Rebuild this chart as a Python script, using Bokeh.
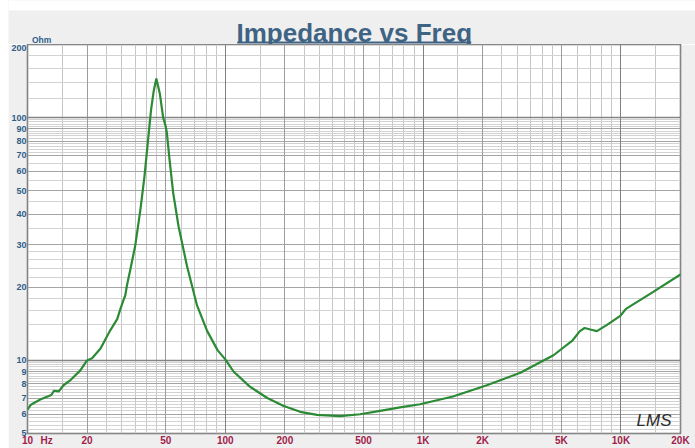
import numpy as np
from bokeh.plotting import figure
from bokeh.layouts import column
from bokeh.models import FixedTicker, Grid, Label, Range1d
from bokeh.embed import file_html
from bokeh.resources import INLINE
from bokeh.core.properties import value

# ---- data ----
freq_hz = [10, 10.4, 11.6, 13.2, 13.6, 14.4, 15.2, 16.5, 18.5, 20, 21.2, 23.4, 26.2,
           28.4, 29.5, 30.7, 31.2, 31.8, 33.1, 35.0, 37.2, 39.0, 40.5, 42.1, 43.4,
           44.8, 46.7, 48.5, 49.8, 50.6, 52.3, 54.5, 58, 64, 72, 81, 91.5, 100, 110,
           133, 163, 196, 239, 291, 381, 480, 606, 764, 965, 1415, 2100, 3100, 4560,
           5700, 6200, 6550, 7000, 7560, 8500, 9960, 10600, 14500, 20000]
impedance_ohm = [6.27, 6.57, 6.9, 7.2, 7.5, 7.45, 7.9, 8.3, 9.1, 10.0, 10.2, 11.2, 13.3,
                 14.8, 16.3, 17.9, 18.5, 20.3, 23.7, 29.5, 41.7, 57, 78, 107, 128,
                 145, 125, 100, 93, 87, 66.7, 49, 35.7, 24.5, 16.8, 13.2, 11.0, 10.1, 9.0,
                 7.8, 7.0, 6.5, 6.14, 5.97, 5.9, 6.0, 6.2, 6.4, 6.6, 7.1, 7.9, 8.9, 10.5,
                 12.1, 13.2, 13.6, 13.4, 13.2, 14.0, 15.3, 16.3, 19.1, 22.6]

x_tick_values = [10, 20, 50, 100, 200, 500, 1000, 2000, 5000, 10000, 20000]
x_tick_labels = ["10", "20", "50", "100", "200", "500", "1K", "2K", "5K", "10K", "20K"]
x_unit_label = "Hz"
x_decades = [10, 100, 1000, 10000]
x_minor_mult = [1.5, 2.5, 3, 3.5, 4, 4.5, 6, 7, 8, 9]

y_tick_values = [5, 6, 7, 8, 9, 10, 20, 30, 40, 50, 60, 70, 80, 90, 100, 200]
y_tick_labels = [str(v) for v in y_tick_values]
y_unit_label = "Ohm"
y_decades = [10, 100]

title_text = "Impedance vs Freq"

# ---- styles / layout ----
SANS = "Liberation Sans"
X_LABEL_COLOR = "#a12149"
Y_LABEL_COLOR = "#2f5d8a"
TITLE_COLOR = "#3e6383"
CURVE_COLOR = "#2b8a34"
BG = "#efefef"

PAD = 8             # white strip left / top
W = 695 - PAD
TITLE_H = 44        # title strip height (includes the white top strip)
H = 448 - TITLE_H
ML, MR, MB = 17, 15, 12
AXIS_PANEL = 19.5   # measured width of the left axis panel

x_lo, x_hi = x_tick_values[0], x_tick_values[-1]
y_lo, y_hi = y_tick_values[0], y_tick_values[-1]


def no_align(fig):
    if "frame_align" in fig.properties():
        fig.frame_align = False


# ---- title strip (a frame-only figure in pixel coordinates) ----
tf = figure(width=W, height=TITLE_H, x_range=Range1d(0, W), y_range=Range1d(TITLE_H, 0),
            x_axis_location=None, y_axis_location=None, output_backend="svg",
            toolbar_location=None, title=None, min_border=0, min_border_left=0,
            min_border_right=0, min_border_top=0, min_border_bottom=0, margin=(0, 0, 0, PAD))
no_align(tf)
tf.grid.visible = False
tf.outline_line_color = None
tf.background_fill_color = BG
tf.border_fill_color = BG
tf.quad(left=[0], right=[W], top=[0], bottom=[PAD + 2], fill_color="white", line_color=None)
frame_left = max(ML, AXIS_PANEL)
frame_cx = (frame_left + (W - MR)) / 2
tf.text(x=[frame_cx], y=[TITLE_H - 12], text=[title_text], text_align="center",
        text_baseline="alphabetic", text_font=value(SANS), text_font_style="bold",
        text_font_size="26px", text_color=TITLE_COLOR)
tf.quad(left=[frame_cx - 117], right=[frame_cx + 117], top=[TITLE_H - 3.0], bottom=[TITLE_H - 1.1],
        fill_color=TITLE_COLOR, line_color=None)
tf.text(x=[frame_left + 4], y=[TITLE_H - 5], text=[y_unit_label], text_align="left",
        text_baseline="alphabetic", text_font=value(SANS), text_font_style="bold",
        text_font_size="8.5px", text_color=Y_LABEL_COLOR)

# ---- main chart ----
p = figure(width=W, height=H, x_axis_type="log", y_axis_type="log",
           x_range=Range1d(x_lo * 0.9999, x_hi * 1.0001),
           y_range=Range1d(y_lo * 0.9999, y_hi * 1.0001),
           output_backend="svg", toolbar_location=None, title=None,
           min_border_left=ML, min_border_right=MR, min_border_top=0, min_border_bottom=MB,
           margin=(0, 0, 0, PAD))
no_align(p)

p.border_fill_color = BG
p.background_fill_color = "white"
p.outline_line_color = "#6a6a6a"
p.outline_line_width = 1.5

p.xgrid.visible = False
p.ygrid.visible = False

x_minor = [d * m for d in x_decades for m in x_minor_mult if d * m < x_hi]
y_minor = ([round(5 + 0.2 * i, 2) for i in range(1, 25) if abs((5 + 0.2 * i) - round(5 + 0.2 * i)) > 1e-6]
           + [12, 14, 16, 18, 22, 24, 26, 28, 35, 45, 55, 65]
           + [72, 74, 76, 78, 82, 84, 86, 88, 92, 94, 96, 98]
           + [120, 140, 160, 180])


def add_grid(dim, ticks, color, width=1.0):
    g = Grid(dimension=dim, ticker=FixedTicker(ticks=ticks),
             grid_line_color=color, grid_line_width=width)
    p.add_layout(g)


add_grid(0, x_minor, "#c6c6c6")
add_grid(1, y_minor, "#d2d2d2")
add_grid(0, x_tick_values, "#9c9c9c")
add_grid(1, y_tick_values, "#a4a4a4")
add_grid(0, x_decades, "#808080")
add_grid(1, y_decades, "#858585", 1.3)

p.line(freq_hz, impedance_ohm, line_color=CURVE_COLOR, line_width=2.2)

# unit label "Hz" sits on the x label row, just right of the first tick label
px_per_decade = (W - MR - frame_left) / np.log10(x_hi / x_lo)
hz_pos = x_lo * 10 ** (19 / px_per_decade)
x_axis_ticks = x_tick_values + [hz_pos]
x_axis_labels = x_tick_labels + [x_unit_label]

for ax, ticks, labels, color, size, standoff in [
        (p.xaxis[0], x_axis_ticks, x_axis_labels, X_LABEL_COLOR, "10px", 1),
        (p.yaxis[0], y_tick_values, y_tick_labels, Y_LABEL_COLOR, "9px", 1)]:
    ax.ticker = FixedTicker(ticks=ticks)
    ax.major_label_overrides = {t: l for t, l in zip(ticks, labels)}
    ax.axis_line_color = None
    ax.major_tick_line_color = None
    ax.minor_tick_line_color = None
    ax.major_tick_out = 0
    ax.major_tick_in = 0
    ax.minor_tick_out = 0
    ax.minor_tick_in = 0
    ax.major_label_standoff = standoff
    ax.major_label_text_font = SANS
    ax.major_label_text_font_style = "bold"
    ax.major_label_text_font_size = size
    ax.major_label_text_color = color

p.add_layout(Label(x=x_hi, y=y_lo, x_offset=-9, y_offset=3, text="LMS",
                   text_align="right", text_baseline="bottom",
                   text_font=SANS, text_font_style="italic",
                   text_font_size="17px", text_color="#2a2a2a"))

layout = column(tf, p, spacing=0)
open("out.html", "w").write(file_html(layout, INLINE))
